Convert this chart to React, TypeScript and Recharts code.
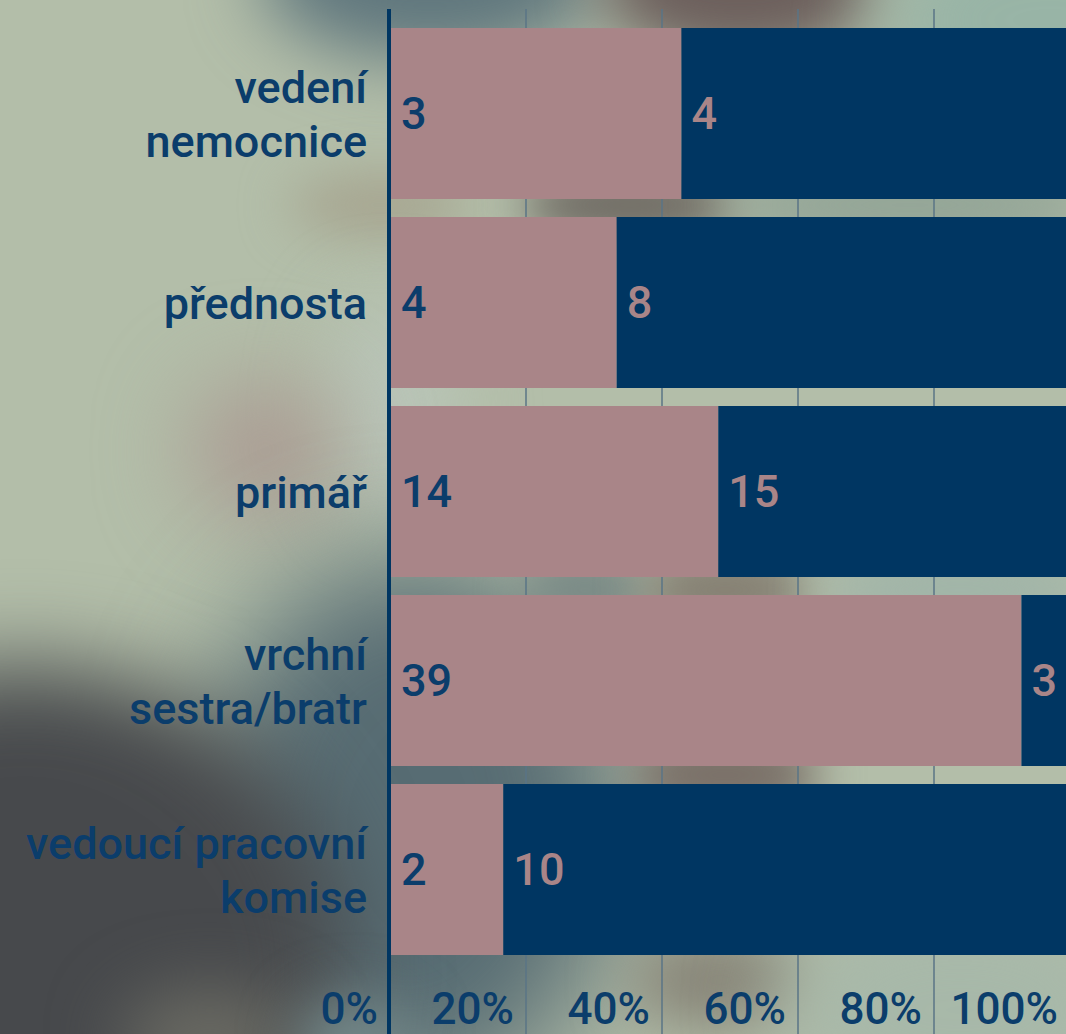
import React from 'react';
import { Bar, BarChart, CartesianGrid, LabelList, ReferenceLine, XAxis, YAxis } from 'recharts';

const categories = ['vedení\nnemocnice', 'přednosta', 'primář', 'vrchní\nsestra/bratr', 'vedoucí pracovní\nkomise'];
const firstValues = [3, 4, 14, 39, 2];
const secondValues = [4, 8, 15, 3, 10];
const percentTicks = [0, 0.2, 0.4, 0.6, 0.8, 1];

const NAVY = '#003662';
const PINK = '#a98588';
const TEXT = '#0b3d6b';

const data = categories.map((name, i) => ({ name, first: firstValues[i], second: secondValues[i] }));

// blurry photo behind the chart: [left, top, width, height, colour, blur]
const blobs: [number, number, number, number, string, number][] = [
  [260, -110, 340, 170, '#5f767d', 35],
  [600, -90, 280, 150, '#6c5f5c', 30],
  [880, -90, 340, 220, '#98b4a6', 40],
  [290, 175, 180, 60, '#a6a48f', 25],
  [520, 170, 220, 70, '#6f6a63', 22],
  [720, 165, 380, 80, '#92a496', 25],
  [330, 300, 120, 220, '#bac6ba', 40],
  [190, 380, 150, 140, '#aa9a92', 45],
  [200, 560, 420, 540, '#576c73', 60],
  [520, 550, 130, 80, '#7a8a86', 22],
  [640, 550, 170, 80, '#857f72', 22],
  [820, 550, 280, 80, '#a0b4a8', 25],
  [630, 730, 190, 90, '#7a7068', 22],
  [-300, 665, 650, 620, '#47494c', 45],
  [120, 990, 180, 100, '#6c6c64', 35],
  [300, 1000, 110, 90, '#748a8c', 30],
  [630, 930, 180, 100, '#878477', 30],
  [780, 900, 360, 220, '#a7b8a9', 45],
];

function Backdrop() {
  return (
    <div style={{ position: 'absolute', inset: 0, background: '#b3bea9', overflow: 'hidden' }}>
      {blobs.map(([left, top, width, height, color, blur], i) => (
        <div
          key={i}
          style={{
            position: 'absolute',
            left,
            top,
            width,
            height,
            borderRadius: '50%',
            background: color,
            filter: `blur(${blur}px)`,
          }}
        />
      ))}
    </div>
  );
}

function CategoryTick(props: any) {
  const { x, y, payload } = props;
  const lines = String(payload.value).split('\n');
  const lineHeight = 54;
  const first = y - ((lines.length - 1) * lineHeight) / 2 + 16;
  return (
    <text x={x - 23} y={first} textAnchor="end" fill={TEXT} fontSize={45} fontWeight={500} fontFamily="Roboto">
      {lines.map((line, i) => (
        <tspan key={i} x={x - 23} y={first + i * lineHeight}>
          {line}
        </tspan>
      ))}
    </text>
  );
}

function PercentTick(props: any) {
  const { x, y, payload } = props;
  return (
    <text x={x - 12} y={y - 10} textAnchor="end" fill={TEXT} fontSize={44} fontWeight={500} fontFamily="Roboto">
      {`${Math.round(payload.value * 100)}%`}
    </text>
  );
}

function AxisLine(props: any) {
  const { x1, y1, x2, y2 } = props;
  return <line x1={x1 - 1} y1={y1} x2={x2 - 1} y2={y2} stroke={NAVY} strokeWidth={4} />;
}

export default function App() {
  return (
    <div
      style={{
        position: 'absolute',
        left: 0,
        top: 0,
        width: 1066,
        height: 1034,
        overflow: 'hidden',
        fontFamily: 'Roboto',
      }}
    >
      <Backdrop />
      <div style={{ position: 'absolute', left: 0, top: 0 }}>
        <BarChart
          width={1070}
          height={1074}
          data={data}
          layout="vertical"
          stackOffset="expand"
          barCategoryGap={9}
          margin={{ top: 9, right: 0, bottom: 0, left: 0 }}
        >
          <CartesianGrid horizontal={false} stroke="#5a7486" strokeWidth={1.5} />
          <XAxis
            type="number"
            domain={[0, 1]}
            ticks={percentTicks}
            height={40}
            tickSize={0}
            tickMargin={0}
            axisLine={false}
            tick={<PercentTick />}
            interval={0}
          />
          <YAxis
            type="category"
            dataKey="name"
            width={390}
            tickSize={0}
            tickMargin={0}
            padding={{ top: 10, bottom: 70 }}
            axisLine={false}
            tick={<CategoryTick />}
            interval={0}
          />
          <Bar dataKey="first" stackId="a" fill={PINK} isAnimationActive={false}>
            <LabelList
              dataKey="first"
              position="insideLeft"
              offset={11}
              fill={TEXT}
              fontSize={45}
              fontWeight={500}
              fontFamily="Roboto"
            />
          </Bar>
          <Bar dataKey="second" stackId="a" fill={NAVY} isAnimationActive={false}>
            <LabelList
              dataKey="second"
              position="insideLeft"
              offset={10}
              fill={PINK}
              fontSize={45}
              fontWeight={500}
              fontFamily="Roboto"
            />
          </Bar>
          <ReferenceLine x={0} shape={<AxisLine />} />
        </BarChart>
      </div>
    </div>
  );
}
